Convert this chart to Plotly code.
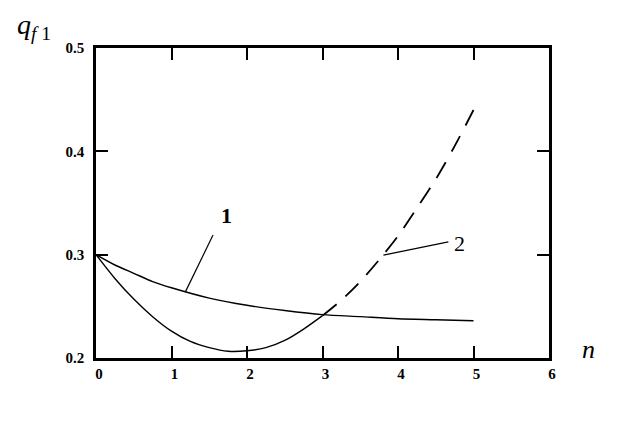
import plotly.graph_objects as go

# curve 1 (solid, upper)
n_curve1 = [0, 0.25, 0.5, 0.75, 1, 1.5, 2, 2.5, 3, 3.5, 4, 4.5, 5]
q_curve1 = [0.300, 0.290, 0.282, 0.274, 0.268, 0.258, 0.251, 0.246, 0.242, 0.240, 0.238, 0.237, 0.236]

# curve 2, solid part
n_curve2 = [0, 0.25, 0.5, 0.75, 1, 1.25, 1.5, 1.75, 2, 2.25, 2.5, 2.75, 3]
q_curve2 = [0.300, 0.277, 0.257, 0.240, 0.226, 0.216, 0.210, 0.2065, 0.207, 0.210, 0.217, 0.228, 0.241]

# curve 2, dashed continuation
n_curve2_dash = [3, 3.25, 3.5, 3.75, 4, 4.25, 4.5, 4.75, 5]
q_curve2_dash = [0.241, 0.256, 0.274, 0.295, 0.318, 0.345, 0.373, 0.405, 0.440]

x_ticks = [0, 1, 2, 3, 4, 5, 6]
y_ticks = [0.2, 0.3, 0.4, 0.5]

SERIF = "Liberation Serif, Times New Roman, serif"

fig = go.Figure()
line_style = dict(color="black", width=1.4, shape="spline", smoothing=0.8)
fig.add_trace(go.Scatter(x=n_curve1, y=q_curve1, mode="lines", line=line_style))
fig.add_trace(go.Scatter(x=n_curve2, y=q_curve2, mode="lines", line=line_style))
fig.add_trace(go.Scatter(x=n_curve2_dash, y=q_curve2_dash, mode="lines",
                         line=dict(line_style, dash="18px,12px", width=1.8)))

# leader lines for the curve labels
fig.add_shape(type="line", x0=1.55, y0=0.319, x1=1.184, y1=0.264,
              line=dict(color="black", width=1.2))
fig.add_shape(type="line", x0=4.667, y0=0.3124, x1=3.807, y1=0.2995,
              line=dict(color="black", width=1.2))

fig.add_annotation(x=1.726, y=0.338, text="<b>1</b>", showarrow=False,
                   font=dict(family=SERIF, size=22, color="black"))
fig.add_annotation(x=4.82, y=0.311, text="2", showarrow=False,
                   font=dict(family=SERIF, size=22, color="black"))

# axis titles placed like the original drawing
fig.add_annotation(xref="paper", yref="paper", x=-0.095, y=1.005, xanchor="right",
                   yanchor="bottom", text="<i>q</i><sub><i>f</i> 1</sub>", showarrow=False,
                   font=dict(family=SERIF, size=28, color="black"))
fig.add_annotation(xref="paper", yref="paper", x=1.106, y=-0.025, text="<i>n</i>",
                   showarrow=False, font=dict(family=SERIF, size=26, color="black"))

axis_common = dict(
    showgrid=False,
    zeroline=False,
    showline=True,
    linecolor="black",
    linewidth=2.5,
    mirror="allticks",
    ticks="inside",
    ticklen=12,
    tickwidth=1.5,
    tickcolor="black",
    tickfont=dict(family=SERIF, size=15, color="black", weight="bold"),
)

fig.update_xaxes(range=[0, 6], tickvals=x_ticks, ticktext=[str(v) for v in x_ticks],
                 ticklabelstandoff=0, ticklabelshift=3, **axis_common)
fig.update_yaxes(range=[0.2, 0.5], tickvals=y_ticks, tickformat=".1f",
                 ticklabelstandoff=6, **axis_common)

# page body adds an 8px offset, so the figure is a bit smaller than the window
fig.update_layout(
    width=620,
    height=413,
    showlegend=False,
    plot_bgcolor="white",
    paper_bgcolor="white",
    margin=dict(l=88, r=79, t=40, b=63),
)

fig.write_html("out.html")
